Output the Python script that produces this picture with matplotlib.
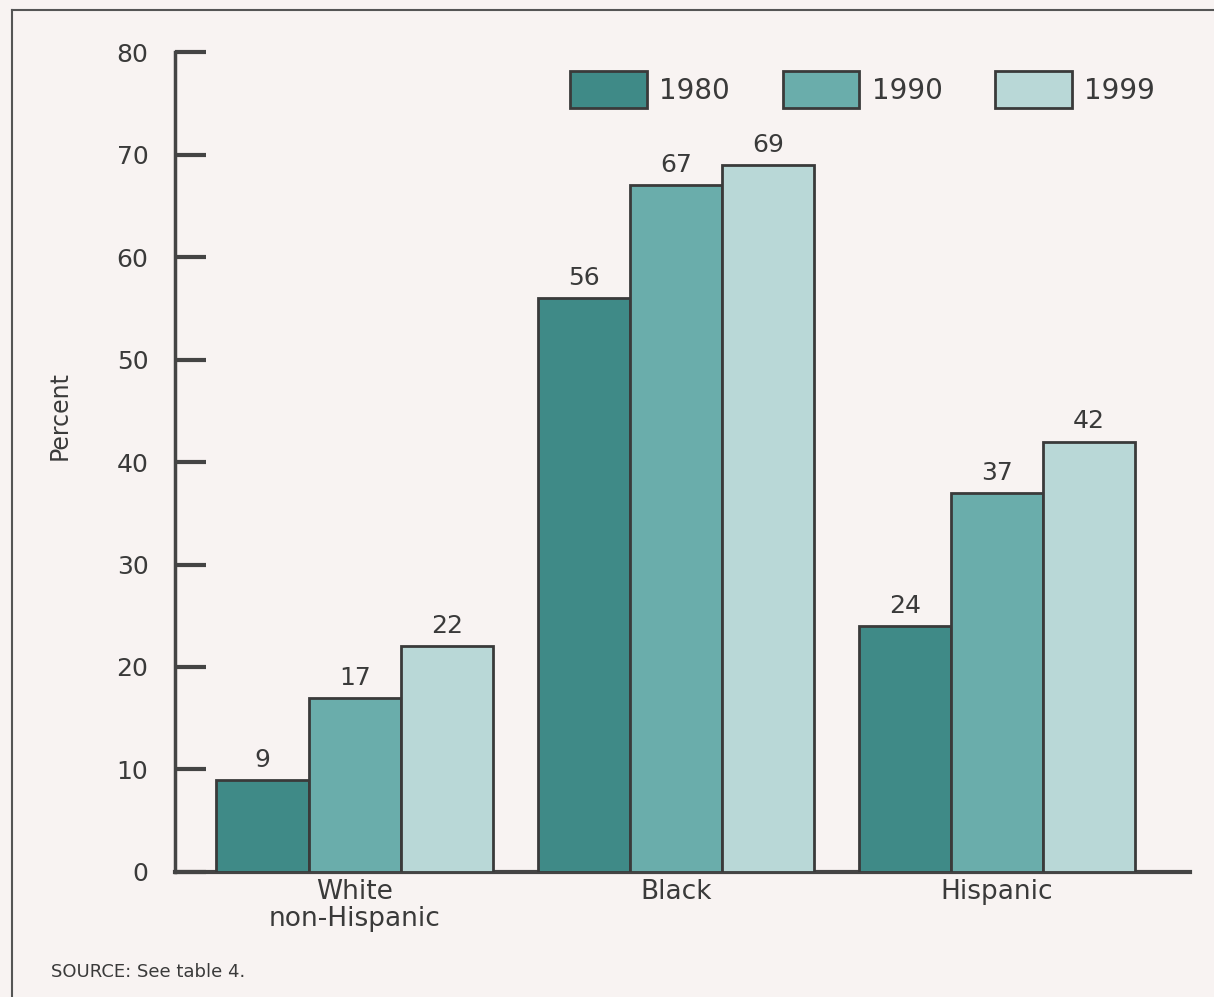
import matplotlib.pyplot as plt
from matplotlib.lines import Line2D
import numpy as np

plt.rcParams['font.family'] = ['DejaVu Sans']

# data
groups = ['White\nnon-Hispanic', 'Black', 'Hispanic']
years = ['1980', '1990', '1999']
v1980 = [9, 56, 24]
v1990 = [17, 67, 37]
v1999 = [22, 69, 42]

colors = ['#3f8a87', '#6aadab', '#b9d8d7']
edge = '#3a3a3a'
bg = '#f8f3f2'
txt = '#3a3a3a'

fig = plt.figure(figsize=(12.14, 9.97), dpi=100, facecolor=bg)
ax = fig.add_axes([0.144, 0.1254, 0.836, 0.8224])
ax.set_facecolor(bg)

x = np.arange(len(groups))
w = 0.287
for i, (vals, c, lab) in enumerate(zip([v1980, v1990, v1999], colors, years)):
    bars = ax.bar(x + (i - 1) * w, vals, w, color=c, edgecolor=edge,
                  linewidth=2.0, label=lab, zorder=3)
    for b, v in zip(bars, vals):
        ax.text(b.get_x() + b.get_width() / 2, v + 0.8, str(v),
                ha='center', va='bottom', fontsize=18, color=txt)

ax.set_xlim(-0.56, 2.6)
ax.set_ylim(0, 80)
ax.set_yticks(range(0, 81, 10))
ax.tick_params(axis='y', direction='in', length=22, width=3, pad=19,
               labelsize=18, labelcolor=txt, color='#444444')
ax.set_xticks(x)
ax.set_xticklabels(groups, fontsize=19, color=txt, linespacing=1.05)
ax.tick_params(axis='x', length=0, pad=5)

for s in ['top', 'right']:
    ax.spines[s].set_visible(False)
ax.spines['left'].set_linewidth(2.5)
ax.spines['bottom'].set_linewidth(3)
ax.spines['left'].set_color('#444444')
ax.spines['bottom'].set_color('#444444')

ax.set_ylabel('Percent', fontsize=17, color=txt)
ax.yaxis.set_label_coords(-0.102, 0.557)

leg = ax.legend(ncol=3, loc='upper right', bbox_to_anchor=(0.985, 1.0),
                frameon=False, fontsize=20, handlelength=2.75, handleheight=1.65,
                columnspacing=1.9, handletextpad=0.45, borderpad=0.2)
for t in leg.get_texts():
    t.set_color(txt)

# page frame lines
fig.add_artist(Line2D([0.01, 1.0], [0.99, 0.99], color='#555555', lw=1.5))
fig.add_artist(Line2D([0.01, 0.01], [0.0, 0.99], color='#555555', lw=1.5))

fig.text(0.042, 0.02, 'SOURCE: See table 4.', fontsize=13, color=txt)

fig.savefig('out.png', dpi=100, facecolor=bg)
